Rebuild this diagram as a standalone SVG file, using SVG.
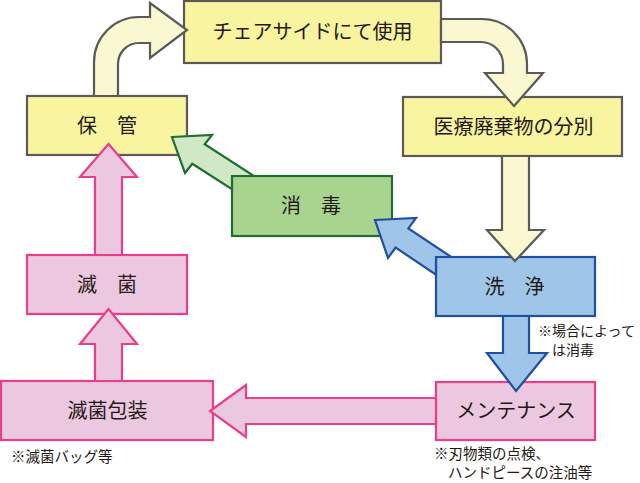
<svg xmlns="http://www.w3.org/2000/svg" width="640" height="483" viewBox="0 0 640 483">
  <style>
    .yb{fill:#f8f4a0;stroke:#5a5a5a;stroke-width:2.2}
    .ya{fill:#faf8d0;stroke:#5a5a5a;stroke-width:2.2;stroke-linejoin:miter}
    .gb{fill:#a9d48f;stroke:#1e6e32;stroke-width:2.2}
    .ga{fill:#d0e8c6;stroke:#1e6e32;stroke-width:2.2}
    .bb{fill:#9fc6e8;stroke:#1f4f9f;stroke-width:2.2}
    .ba{fill:#9fc6e8;stroke:#1f4f9f;stroke-width:2.2}
    .pb{fill:#ecc8e0;stroke:#e83e8c;stroke-width:2.2}
    .pa{fill:#ecc8e0;stroke:#e83e8c;stroke-width:2.2}
    .t{font-family:"Noto Sans CJK JP","Noto Sans CJK SC",sans-serif;font-size:20px;fill:#231815;text-anchor:middle}
    .n{font-family:"Noto Sans CJK JP","Noto Sans CJK SC",sans-serif;font-size:14.5px;fill:#231815}
    .s{font-size:14px}
  </style>
  <rect width="640" height="483" fill="#ffffff"/>

  <g id="chairside">
    <rect class="yb" x="184" y="1" width="257" height="62"/>
    <text class="t" x="312.5" y="39">チェアサイドにて使用</text>
  </g>
  <g id="hokan">
    <rect class="yb" x="27" y="96" width="160" height="59"/>
    <text class="t" x="107" y="132.5">保　管</text>
  </g>
  <g id="bunbetsu">
    <rect class="yb" x="403" y="97" width="219" height="59"/>
    <text class="t" x="513.5" y="133.5">医療廃棄物の分別</text>
  </g>
  <g id="shodoku">
    <rect class="gb" x="232" y="176" width="160" height="60"/>
    <text class="t" x="311" y="213">消　毒</text>
  </g>
  <g id="senjo">
    <rect class="bb" x="436" y="257" width="159" height="59"/>
    <text class="t" x="514.5" y="293.5">洗　浄</text>
  </g>
  <g id="mekkin">
    <rect class="pb" x="27" y="255" width="160" height="59"/>
    <text class="t" x="107" y="291.5">滅　菌</text>
  </g>
  <g id="mekkinhoso">
    <rect class="pb" x="1" y="381" width="212" height="59"/>
    <text class="t" x="107.5" y="417.5">滅菌包装</text>
  </g>
  <g id="maintenance">
    <rect class="pb" x="436" y="382" width="159" height="58"/>
    <text class="t" x="516" y="418">メンテナンス</text>
  </g>

  <g id="connectors">
    <path class="ya" d="M94,96 L94,62 A45,45 0 0 1 139,17 L150,17 L150,3 L187,30 L150,58 L150,43 L139,43 A21,21 0 0 0 118,64 L118,96 Z"/>
    <path class="ya" d="M441,19 L482,19 A45,45 0 0 1 527,64 L527,73 L543,73 L514,106 L485,73 L503,73 L503,64 A22,22 0 0 0 481,42 L441,42 Z"/>
    <path class="ya" d="M502,156 L502,230 L487,230 L515,261 L544,230 L529,230 L529,156 Z"/>
    <path class="ba" d="M375,220 L416,218 L408.4,228.4 L451.3,257 L436,257 L436,274.6 L395.6,247.6 L388,258 Z"/>
    <path class="ga" d="M172,137 L212,135 L204.7,144.3 L254,176 L232,176 L232,189.2 L192.3,163.7 L185,173 Z"/>
    <path class="pa" d="M95,255 L95,177 L80,177 L108.5,144 L137,177 L122,177 L122,255 Z"/>
    <path class="pa" d="M95,381 L95,344 L80,344 L108.5,309 L137,344 L122,344 L122,381 Z"/>
    <path class="pa" d="M436,398 L246,398 L246,385 L210,411 L246,437 L246,424 L436,424 Z"/>
    <path class="ba" d="M503,316 L503,353 L487,353 L516,391 L547,353 L529,353 L529,316 Z"/>
  </g>

  <g id="notes">
    <text class="n s" x="538" y="336">※場合によって</text>
    <text class="n s" x="552" y="354.5">は消毒</text>
    <text class="n" x="434" y="459">※刃物類の点検、</text>
    <text class="n" x="448" y="478">ハンドピースの注油等</text>
    <text class="n" x="11" y="462">※滅菌バッグ等</text>
  </g>
</svg>
